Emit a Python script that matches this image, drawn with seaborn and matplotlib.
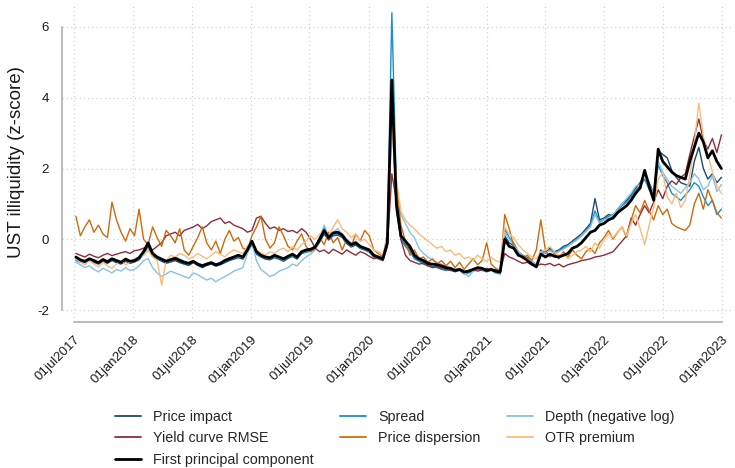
import matplotlib
matplotlib.use("Agg")
import matplotlib.pyplot as plt
import matplotlib.dates as mdates
from matplotlib.lines import Line2D
import pandas as pd
import seaborn as sns

# Bi-weekly observation dates
dates = pd.date_range("2017-07-07", periods=144, freq="14D")

price_impact = [
    -0.55, -0.62, -0.66, -0.60, -0.65, -0.70, -0.62, -0.68, -0.60, -0.66, -0.70, -0.62,
    -0.68, -0.64, -0.58, -0.40, -0.20, -0.48, -0.55, -0.62, -0.68, -0.64, -0.60, -0.66,
    -0.70, -0.74, -0.66, -0.74, -0.80, -0.74, -0.70, -0.76, -0.72, -0.66, -0.60, -0.56,
    -0.52, -0.56, -0.35, -0.15, -0.42, -0.50, -0.56, -0.58, -0.52, -0.56, -0.62, -0.54,
    -0.48, -0.56, -0.40, -0.36, -0.34, -0.28, -0.08, 0.15, -0.02, 0.10, 0.12, 0.05,
    -0.12, -0.22, -0.16, -0.26, -0.30, -0.36, -0.50, -0.55, -0.60, -0.20, 4.20, 0.80,
    0.00, -0.15, -0.28, -0.52, -0.60, -0.66, -0.72, -0.76, -0.78, -0.80, -0.84, -0.86,
    -0.90, -0.86, -0.95, -0.92, -0.88, -0.82, -0.85, -0.90, -0.86, -0.92, -0.95, 0.10,
    -0.10, -0.18, -0.38, -0.45, -0.52, -0.62, -0.75, -0.30, -0.40, -0.25, -0.35, -0.30,
    -0.20, -0.15, -0.05, 0.05, 0.15, 0.30, 0.45, 1.15, 0.55, 0.60, 0.70, 0.65,
    0.85, 1.00, 1.10, 1.25, 1.45, 1.60, 1.85, 1.60, 1.30, 2.50, 2.40, 2.30,
    1.95, 1.75, 1.60, 1.55, 1.50, 2.20, 2.60, 2.00, 1.70, 1.85, 1.60, 1.75,
]

spread = [
    -0.60, -0.65, -0.62, -0.58, -0.62, -0.68, -0.60, -0.64, -0.58, -0.62, -0.66, -0.58,
    -0.64, -0.60, -0.55, -0.42, -0.30, -0.45, -0.52, -0.58, -0.60, -0.55, -0.50, -0.56,
    -0.62, -0.66, -0.60, -0.68, -0.72, -0.68, -0.64, -0.70, -0.66, -0.58, -0.52, -0.50,
    -0.45, -0.52, -0.20, -0.05, -0.40, -0.48, -0.52, -0.55, -0.50, -0.54, -0.58, -0.52,
    -0.46, -0.52, -0.40, -0.35, -0.32, -0.22, 0.05, 0.35, 0.02, 0.12, 0.15, 0.08,
    -0.08, -0.18, -0.12, -0.24, -0.30, -0.34, -0.48, -0.55, -0.60, 0.20, 6.40, 1.50,
    0.00, -0.20, -0.35, -0.55, -0.62, -0.70, -0.75, -0.78, -0.80, -0.85, -0.88, -0.86,
    -0.92, -0.88, -0.98, -0.95, -0.90, -0.85, -0.88, -0.92, -0.88, -0.95, -0.98, 0.30,
    0.05, -0.10, -0.35, -0.45, -0.55, -0.65, -0.72, -0.40, -0.35, -0.30, -0.38, -0.32,
    -0.25, -0.18, -0.10, 0.00, 0.10, 0.25, 0.40, 0.80, 0.50, 0.55, 0.65, 0.70,
    0.80, 0.95, 1.05, 1.20, 1.40, 1.50, 1.70, 1.40, 1.20, 2.10, 1.80, 1.60,
    1.30, 1.20, 1.10, 1.25, 1.40, 1.60, 1.50, 1.20, 0.95, 1.10, 0.70, 0.85,
]

depth = [
    -0.65, -0.72, -0.80, -0.75, -0.85, -0.92, -0.82, -0.88, -0.95, -0.85, -0.90, -0.80,
    -0.88, -0.85, -0.75, -0.60, -0.55, -0.80, -0.95, -1.05, -0.98, -0.90, -0.95, -1.00,
    -1.05, -1.10, -0.95, -1.00, -1.08, -1.15, -1.10, -1.20, -1.12, -1.05, -0.98, -0.90,
    -0.85, -0.80, -0.40, -0.10, -0.60, -0.85, -0.95, -1.05, -1.00, -0.90, -0.85, -0.80,
    -0.70, -0.75, -0.60, -0.50, -0.42, -0.30, 0.00, 0.40, 0.10, 0.20, 0.30, 0.15,
    0.00, -0.10, -0.05, -0.18, -0.25, -0.30, -0.45, -0.52, -0.58, -0.05, 3.20, 1.40,
    0.70, 0.45, 0.20, 0.05, -0.25, -0.40, -0.50, -0.58, -0.65, -0.70, -0.78, -0.80,
    -0.85, -0.82, -0.95, -1.05, -0.90, -0.80, -0.85, -0.88, -0.82, -0.90, -0.92, 0.20,
    0.00, -0.15, -0.35, -0.45, -0.55, -0.62, -0.70, -0.42, -0.38, -0.32, -0.40, -0.35,
    -0.28, -0.20, -0.10, -0.02, 0.10, 0.22, 0.35, 0.70, 0.45, 0.55, 0.60, 0.68,
    0.85, 1.00, 1.15, 1.30, 1.50, 1.55, 1.85, 1.55, 1.30, 2.20, 1.90, 1.70,
    1.50, 1.40, 1.30, 1.45, 1.60, 1.85, 1.70, 1.40, 1.50, 1.80, 1.35, 1.55,
]

yield_curve_rmse = [
    -0.40, -0.45, -0.50, -0.42, -0.48, -0.52, -0.45, -0.40, -0.46, -0.42, -0.38, -0.35,
    -0.40, -0.32, -0.30, -0.25, -0.20, -0.30, -0.20, -0.10, 0.10, 0.15, 0.20, 0.10,
    0.25, 0.30, 0.35, 0.42, 0.30, 0.38, 0.50, 0.55, 0.60, 0.45, 0.50, 0.40,
    0.35, 0.30, 0.20, 0.25, 0.60, 0.65, 0.45, 0.30, 0.35, 0.25, 0.30, 0.22,
    0.25, 0.18, 0.30, 0.20, 0.00, -0.25, -0.35, -0.30, -0.40, -0.28, -0.35, -0.42,
    -0.30, -0.38, -0.45, -0.35, -0.40, -0.48, -0.55, -0.52, -0.60, -0.20, 1.85, 1.10,
    0.00, -0.45, -0.60, -0.65, -0.70, -0.68, -0.75, -0.80, -0.78, -0.82, -0.85, -0.88,
    -0.90, -0.85, -0.92, -0.88, -0.85, -0.90, -0.86, -0.82, -0.88, -0.85, -0.90, -0.40,
    -0.50, -0.55, -0.62, -0.68, -0.65, -0.72, -0.75, -0.70, -0.72, -0.68, -0.75, -0.70,
    -0.78, -0.72, -0.68, -0.65, -0.60, -0.58, -0.55, -0.50, -0.48, -0.45, -0.40, -0.35,
    -0.20, -0.05, 0.10, 0.60, 0.40, 0.70, 0.95, 0.75, 1.05, 1.40, 1.15, 1.50,
    1.65, 1.55, 1.75, 1.85, 2.40, 2.90, 3.40, 2.80, 2.55, 2.85, 2.45, 2.95,
]

price_dispersion = [
    0.65, 0.10, 0.35, 0.55, 0.20, 0.40, 0.15, 0.05, 1.05, 0.55, 0.20, -0.05,
    0.30, 0.10, 0.85, 0.00, -0.15, 0.35, 0.05, -0.20, 0.25, 0.10, -0.10, 0.30,
    -0.30, -0.45, -0.20, 0.05, 0.35, -0.10, -0.30, -0.05, -0.40, 0.00, 0.25, -0.05,
    0.05, -0.25, -0.30, 0.10, 0.35, 0.65, 0.00, -0.25, -0.10, 0.35, 0.10, -0.20,
    -0.30, -0.05, 0.15, -0.20, -0.35, -0.25, 0.05, -0.15, 0.20, -0.10, 0.05, -0.30,
    0.00, -0.20, 0.15, -0.05, 0.25, 0.10, -0.30, -0.40, -0.50, 0.00, 3.70, 1.60,
    0.40, -0.05, -0.45, -0.30, -0.55, -0.50, -0.65, -0.55, -0.70, -0.60, -0.75, -0.62,
    -0.80, -0.65, -0.85, -0.70, -0.55, -0.72, -0.60, -0.10, -0.70, -0.82, -0.88, 0.70,
    0.30, -0.20, -0.40, -0.55, -0.45, -0.60, -0.30, 0.55, -0.30, -0.50, -0.40, -0.55,
    -0.35, -0.50, -0.30, -0.45, -0.55, -0.35, -0.25, -0.40, -0.10, 0.05, 0.25, 0.00,
    0.20, 0.35, 0.05, 0.55, 0.95, 0.75, 1.10, 0.80, 0.55, 0.95, 0.70, 0.85,
    0.45, 0.35, 0.30, 0.25, 0.40, 1.00, 1.30, 0.85, 1.40, 1.10, 0.75, 0.60,
]

otr_premium = [
    -0.55, -0.65, -0.72, -0.60, -0.70, -0.78, -0.65, -0.75, -0.82, -0.70, -0.60, -0.72,
    -0.65, -0.55, -0.50, -0.45, -0.30, -0.50, -0.60, -1.30, -0.60, -0.45, -0.50, -0.40,
    -0.45, -0.55, -0.50, -0.40, -0.48, -0.55, -0.45, -0.35, -0.42, -0.50, -0.38, -0.30,
    -0.35, -0.40, -0.20, -0.05, -0.30, -0.38, -0.45, -0.35, -0.40, -0.30, -0.25, -0.35,
    -0.20, -0.30, -0.15, -0.05, 0.10, 0.00, 0.15, 0.25, 0.10, 0.35, 0.55, 0.30,
    0.20, 0.05, 0.15, -0.05, 0.00, -0.15, -0.30, -0.35, -0.45, 0.10, 3.20, 1.70,
    0.80, 0.55, 0.40, 0.30, 0.15, 0.05, -0.05, -0.15, -0.25, -0.20, -0.35, -0.30,
    -0.45, -0.40, -0.55, -0.50, -0.60, -0.45, -0.55, -0.62, -0.50, -0.60, -0.65, 0.35,
    0.15, 0.05, -0.15, -0.30, -0.40, -0.50, -0.55, -0.35, -0.30, -0.20, -0.35, -0.45,
    -0.40, -0.55, -0.45, -0.35, -0.30, -0.20, -0.35, -0.10, -0.25, 0.00, 0.15, 0.05,
    0.20, 0.35, 0.10, 0.45, 0.70, 0.30, -0.15, 0.40, 0.90, 1.70, 1.90, 1.20,
    1.00, 1.30, 0.90, 1.10, 1.80, 2.70, 3.85, 2.90, 2.40, 1.90, 1.50, 1.30,
]

first_pc = [
    -0.50, -0.58, -0.62, -0.55, -0.60, -0.66, -0.57, -0.63, -0.55, -0.60, -0.65, -0.56,
    -0.62, -0.60, -0.52, -0.35, -0.10, -0.40, -0.50, -0.56, -0.62, -0.58, -0.54, -0.60,
    -0.65, -0.68, -0.62, -0.70, -0.75, -0.70, -0.66, -0.72, -0.68, -0.60, -0.55, -0.50,
    -0.45, -0.50, -0.30, -0.05, -0.35, -0.45, -0.50, -0.52, -0.45, -0.50, -0.55, -0.48,
    -0.42, -0.50, -0.35, -0.30, -0.28, -0.22, 0.00, 0.25, 0.05, 0.18, 0.20, 0.12,
    -0.05, -0.15, -0.10, -0.20, -0.25, -0.30, -0.45, -0.50, -0.55, -0.10, 4.50, 1.00,
    0.10, -0.05, -0.20, -0.45, -0.55, -0.60, -0.68, -0.70, -0.72, -0.75, -0.80, -0.82,
    -0.88, -0.85, -0.92, -0.90, -0.85, -0.80, -0.82, -0.88, -0.85, -0.90, -0.92, 0.00,
    -0.20, -0.25, -0.45, -0.50, -0.60, -0.70, -0.78, -0.42, -0.50, -0.42, -0.48, -0.50,
    -0.45, -0.40, -0.25, -0.20, -0.10, 0.05, 0.20, 0.25, 0.40, 0.45, 0.55, 0.60,
    0.75, 0.85, 0.95, 1.10, 1.30, 1.45, 1.95, 1.50, 1.10, 2.55, 2.20, 2.05,
    1.90, 1.80, 1.75, 1.70, 2.20, 2.60, 3.00, 2.75, 2.30, 2.50, 2.20, 2.00,
]

series_names = ["Price impact", "Spread", "Depth (negative log)",
                "Yield curve RMSE", "Price dispersion", "OTR premium",
                "First principal component"]
series_values = [price_impact, spread, depth, yield_curve_rmse,
                 price_dispersion, otr_premium, first_pc]
series_colors = ["#1b4a77", "#1791c9", "#86c1ea", "#902c3a",
                 "#cf6a0c", "#fdbb7a", "#000000"]
series_widths = [1.0, 1.0, 1.0, 1.0, 1.0, 1.0, 2.0]

x_tick_dates = ["2017-07-01", "2018-01-01", "2018-07-01", "2019-01-01",
                "2019-07-01", "2020-01-01", "2020-07-01", "2021-01-01",
                "2021-07-01", "2022-01-01", "2022-07-01", "2023-01-01"]
x_tick_labels = ["01jul2017", "01jan2018", "01jul2018", "01jan2019",
                 "01jul2019", "01jan2020", "01jul2020", "01jan2021",
                 "01jul2021", "01jan2022", "01jul2022", "01jan2023"]
y_ticks = [-2, 0, 2, 4, 6]
y_tick_labels = ["-2", "0", "2", "4", "6"]

sns.set_theme(style="white")
plt.rcParams["font.family"] = ["Liberation Sans", "DejaVu Sans"]
plt.rcParams["axes.unicode_minus"] = False

W, H = 735, 468
fig = plt.figure(figsize=(W / 100, H / 100), dpi=100)
ax = fig.add_axes([62 / W, 1 - 322 / H, (733 - 62) / W, (322 - 3) / H])

long = pd.DataFrame({
    "date": list(dates) * len(series_names),
    "value": [v for vals in series_values for v in vals],
    "series": [n for n, vals in zip(series_names, series_values) for _ in vals],
})

for i, (name, color, lw) in enumerate(zip(series_names, series_colors, series_widths)):
    sub = long[long["series"] == name]
    sns.lineplot(data=sub, x="date", y="value", ax=ax, color=color,
                 linewidth=lw, legend=False, zorder=3 + i)
    ax.lines[-1].set_solid_joinstyle("round")

tick_pos = pd.to_datetime(x_tick_dates)
ax.set_xlim(pd.Timestamp("2017-05-25"), pd.Timestamp("2023-02-04"))
ax.set_ylim(-2.336, 6.675)
ax.set_xticks(tick_pos)
ax.set_xticklabels(x_tick_labels, rotation=45, ha="right", va="top",
                   rotation_mode="anchor")
ax.set_yticks(y_ticks)
ax.set_yticklabels(y_tick_labels)

ax.set_axisbelow(True)
ax.grid(True, color="#d2d2d2", linestyle=(0, (1, 2.4)), linewidth=0.9)

for side in ["top", "right"]:
    ax.spines[side].set_visible(False)
for side in ["left", "bottom"]:
    ax.spines[side].set_color("#a8a8a8")
    ax.spines[side].set_linewidth(1.1)
ax.spines["left"].set_bounds(-2, 6)
ax.spines["bottom"].set_bounds(mdates.date2num(tick_pos[0]),
                               mdates.date2num(tick_pos[-1]))

ax.tick_params(axis="both", direction="out", length=5.5, width=1.0,
               color="#a8a8a8", labelsize=9.5, labelcolor="#1a1a1a", pad=4)
ax.tick_params(axis="x", pad=3)

ax.set_xlabel("")
ax.set_ylabel("UST illiquidity (z-score)", fontsize=13.5, color="#1a1a1a")
ax.yaxis.set_label_coords((25 - 62) / (733 - 62), 0.5)

# Legend laid out row-wise in three columns
order = [0, 3, 6, 1, 4, 2, 5]
handles = [Line2D([], [], color=series_colors[k],
                  linewidth=2.0 if k == 6 else 1.3) for k in order]
labels = [series_names[k] for k in order]
fig.legend(handles, labels, ncol=3, loc="upper left",
           bbox_to_anchor=(115 / W, 1 - 410 / H), frameon=False,
           fontsize=10.3, handlelength=1.85, handletextpad=0.8,
           columnspacing=1.85, labelspacing=0.52, borderpad=0,
           borderaxespad=0)

fig.savefig("out.png", dpi=100)
